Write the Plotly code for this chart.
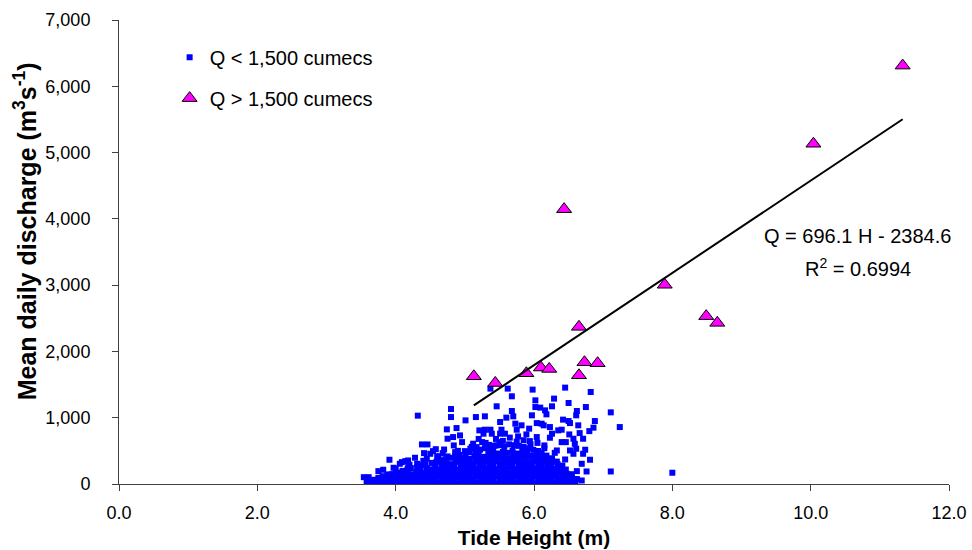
import plotly.graph_objects as go

# ---- data ----
# Q < 1,500 cumecs : (tide height m, discharge m3/s)
low_points = [
    # dense core
    (3.58, 22), (3.62, 55), (3.66, 12), (3.69, 64), (3.73, 28), (3.75, 92),
    (3.80, 15), (3.82, 70), (3.81, 118), (3.87, 35), (3.89, 98), (3.88, 145),
    (3.94, 18), (3.96, 80), (3.95, 150), (4.01, 40), (4.03, 105), (4.02, 172),
    (4.08, 12), (4.10, 75), (4.09, 140), (4.10, 198),
    (4.15, 30), (4.17, 95), (4.16, 160), (4.17, 222),
    (4.22, 15), (4.24, 80), (4.23, 148), (4.22, 240),
    (4.29, 38), (4.31, 102), (4.30, 175), (4.31, 252),
    (4.36, 10), (4.38, 72), (4.37, 140), (4.36, 210), (4.38, 282),
    (4.43, 35), (4.45, 100), (4.44, 170), (4.45, 240), (4.43, 298),
    (4.50, 18), (4.52, 82), (4.51, 150), (4.50, 222), (4.52, 318),
    (4.57, 40), (4.59, 110), (4.58, 180), (4.57, 262), (4.59, 335),
    (4.64, 12), (4.66, 75), (4.65, 145), (4.64, 215), (4.66, 290), (4.65, 358),
    (4.71, 30), (4.73, 98), (4.72, 168), (4.71, 240), (4.73, 312), (4.72, 375),
    (4.78, 15), (4.80, 80), (4.79, 150), (4.78, 225), (4.80, 300), (4.79, 395),
    (4.85, 40), (4.87, 108), (4.86, 180), (4.85, 255), (4.87, 335), (4.86, 418),
    (4.92, 10), (4.94, 72), (4.93, 142), (4.92, 212), (4.94, 285), (4.93, 360), (4.92, 438),
    (4.99, 32), (5.01, 100), (5.00, 170), (4.99, 245), (5.01, 320), (5.00, 395), (5.01, 458),
    (5.06, 15), (5.08, 82), (5.07, 152), (5.06, 228), (5.08, 300), (5.07, 378), (5.06, 478),
    (5.13, 45), (5.15, 115), (5.14, 188), (5.13, 262), (5.15, 340), (5.14, 420), (5.15, 495),
    (5.20, 12), (5.22, 78), (5.21, 150), (5.20, 225), (5.22, 300), (5.21, 378), (5.20, 455), (5.22, 518),
    (5.27, 35), (5.29, 105), (5.28, 180), (5.27, 255), (5.29, 335), (5.28, 410), (5.29, 540),
    (5.34, 18), (5.36, 88), (5.35, 160), (5.34, 235), (5.36, 310), (5.35, 390), (5.34, 470), (5.36, 555),
    (5.41, 42), (5.43, 112), (5.42, 190), (5.41, 265), (5.43, 345), (5.42, 425), (5.41, 505), (5.43, 578),
    (5.48, 10), (5.50, 75), (5.49, 148), (5.48, 222), (5.50, 300), (5.49, 380), (5.48, 460), (5.50, 588),
    (5.55, 30), (5.57, 100), (5.56, 172), (5.55, 248), (5.57, 325), (5.56, 405), (5.55, 485), (5.57, 560),
    (5.62, 15), (5.64, 82), (5.63, 155), (5.62, 230), (5.64, 308), (5.63, 388), (5.62, 470), (5.64, 598),
    (5.69, 40), (5.71, 110), (5.70, 185), (5.69, 262), (5.71, 340), (5.70, 420), (5.69, 500), (5.71, 585),
    (5.76, 12), (5.78, 78), (5.77, 150), (5.76, 225), (5.78, 302), (5.77, 380), (5.76, 460), (5.78, 575),
    (5.83, 35), (5.85, 105), (5.84, 178), (5.83, 255), (5.85, 330), (5.84, 410), (5.83, 490), (5.85, 558),
    (5.90, 18), (5.92, 88), (5.91, 160), (5.90, 238), (5.92, 315), (5.91, 395), (5.90, 470), (5.92, 538),
    (5.97, 45), (5.99, 115), (5.98, 190), (5.97, 268), (5.99, 345), (5.98, 425), (5.99, 515),
    (6.04, 10), (6.06, 78), (6.05, 150), (6.04, 228), (6.06, 305), (6.05, 385), (6.04, 460), (6.06, 498),
    (6.11, 32), (6.13, 102), (6.12, 175), (6.11, 250), (6.13, 330), (6.12, 405), (6.11, 468),
    (6.18, 15), (6.20, 85), (6.19, 158), (6.18, 235), (6.20, 312), (6.19, 380), (6.18, 428),
    (6.25, 40), (6.27, 110), (6.26, 185), (6.25, 262), (6.27, 335), (6.26, 388),
    (6.32, 12), (6.34, 80), (6.33, 152), (6.32, 228), (6.34, 300), (6.33, 338),
    (6.39, 35), (6.41, 105), (6.40, 178), (6.39, 245), (6.41, 278),
    (6.46, 15), (6.48, 85), (6.47, 155), (6.46, 218),
    (6.53, 40), (6.55, 100), (6.54, 148), (6.60, 18), (6.62, 75),
    # ragged upper rim of the dense cloud
    (4.00, 230), (4.20, 290), (4.40, 350), (4.60, 420), (4.70, 520), (4.90, 500),
    (5.10, 560), (5.20, 680), (5.30, 620), (5.45, 680), (5.55, 650), (5.65, 700),
    (5.75, 640), (5.85, 660), (5.95, 600), (6.05, 620), (6.15, 540), (6.30, 470),
    (6.45, 370),
    # scattered points
    (3.54, 103), (3.61, 103), (3.75, 194), (3.82, 215), (3.91, 366), (3.97, 245),
    (4.06, 305), (4.09, 330), (4.14, 345), (4.18, 355), (4.18, 254), (4.28, 396),
    (4.31, 305), (4.32, 1031), (4.38, 597), (4.46, 597), (4.41, 466), (4.45, 381),
    (4.50, 456), (4.54, 496), (4.58, 525), (4.62, 381), (4.68, 466), (4.74, 824),
    (4.75, 683), (4.75, 416), (4.80, 1131), (4.80, 1010), (4.83, 708), (4.84, 582),
    (4.86, 481), (4.88, 844), (4.93, 733), (4.96, 632), (5.00, 496), (5.01, 960),
    (5.08, 532), (5.12, 608), (5.16, 1010), (5.17, 556), (5.21, 809), (5.25, 632),
    (5.27, 759), (5.29, 819), (5.29, 1021), (5.32, 582), (5.35, 590), (5.37, 1439),
    (5.37, 819), (5.39, 759), (5.46, 1172), (5.46, 582), (5.51, 935), (5.51, 759),
    (5.51, 632), (5.53, 819), (5.58, 759), (5.60, 1001), (5.62, 1439), (5.68, 1323),
    (5.68, 1101), (5.70, 1021), (5.73, 910), (5.75, 819), (5.77, 718), (5.82, 885),
    (5.89, 748), (5.93, 835), (5.94, 647), (5.97, 1036), (5.98, 1424), (6.02, 1262),
    (6.02, 1161), (6.04, 919), (6.04, 708), (6.09, 1152), (6.11, 910), (6.14, 885),
    (6.15, 582), (6.16, 1111), (6.18, 1051), (6.23, 859), (6.23, 698), (6.26, 1172),
    (6.26, 759), (6.29, 1288), (6.33, 506), (6.35, 809), (6.40, 819), (6.40, 632),
    (6.42, 971), (6.45, 1454), (6.46, 632), (6.50, 1222), (6.50, 950), (6.51, 748),
    (6.52, 919), (6.52, 506), (6.57, 683), (6.57, 456), (6.59, 607), (6.61, 1036),
    (6.61, 532), (6.62, 1101), (6.62, 194), (6.64, 885), (6.66, 768), (6.69, 305),
    (6.69, 53), (6.71, 683), (6.71, 456), (6.74, 517), (6.75, 1161), (6.76, 189),
    (6.80, 798), (6.81, 366), (6.82, 1388), (6.86, 850), (6.88, 950), (7.11, 1081),
    (7.24, 859), (7.11, 189), (8.00, 170),
]
low_h = [p[0] for p in low_points]
low_q = [p[1] for p in low_points]

# Q > 1,500 cumecs
high_h = [5.13, 5.44, 5.89, 6.10, 6.22, 6.435, 6.65, 6.65, 6.73, 6.92, 7.89, 8.49, 8.65, 10.04, 11.33]
high_q = [1625, 1524, 1671, 1757, 1736, 4146, 2371, 1640, 1837, 1822, 3006, 2532, 2431, 5133, 6312]

# linear fit shown on the chart
slope = 696.1
intercept = -2384.6
r_squared = 0.6994

x_ticks = [0, 2, 4, 6, 8, 10, 12]
y_ticks = [0, 1000, 2000, 3000, 4000, 5000, 6000, 7000]

FONT = "Liberation Sans, Arial, sans-serif"
AXIS = "#404040"

fit_x = [min(high_h), max(high_h)]
fit_y = [slope * h + intercept for h in fit_x]

fig = go.Figure()
fig.add_trace(go.Scatter(
    x=low_h, y=low_q, mode="markers", name="Q < 1,500 cumecs",
    marker=dict(symbol="square", size=6, color="#0000FF", line=dict(width=0)),
    legendgroup="a",
))
fig.add_trace(go.Scatter(
    x=high_h, y=high_q, mode="markers", name="Q > 1,500 cumecs",
    marker=dict(symbol="triangle-up", size=13, color="#FF00FF",
                line=dict(color="#000000", width=1)),
    legendgroup="b",
))
fig.add_trace(go.Scatter(
    x=fit_x, y=fit_y, mode="lines", showlegend=False,
    line=dict(color="#000000", width=2),
))

fig.add_annotation(
    x=0.890, y=0.5345, xref="paper", yref="paper", showarrow=False,
    text=f"Q = {slope} H - {abs(intercept)}", xanchor="center", yanchor="middle",
    font=dict(family=FONT, size=20, color="#000"),
)
fig.add_annotation(
    x=0.890, y=0.4676, xref="paper", yref="paper", showarrow=False,
    text=f"R<sup>2</sup> = {r_squared}", xanchor="center", yanchor="middle",
    font=dict(family=FONT, size=20, color="#000"),
)
# y-axis title (placed as in the reference, slightly above the plot centre)
fig.add_annotation(
    x=-0.113, y=0.545, xref="paper", yref="paper", showarrow=False,
    text="<b>Mean daily discharge (m<sup>3</sup>s<sup>-1</sup>)</b>", textangle=-90,
    xanchor="center", yanchor="middle",
    font=dict(family=FONT, size=25, color="#000"),
)

fig.update_layout(
    width=972, height=550,
    margin=dict(l=119, r=23, t=20, b=66, pad=0),
    paper_bgcolor="white", plot_bgcolor="white",
    font=dict(family=FONT, size=18, color="#000"),
    showlegend=True,
    legend=dict(x=0.061, y=0.962, xanchor="left", yanchor="top",
                bgcolor="rgba(0,0,0,0)", font=dict(family=FONT, size=20),
                tracegroupgap=12, itemsizing="trace", itemwidth=30),
    xaxis=dict(
        range=[0, 12], tickvals=x_ticks, tickformat=".1f",
        showgrid=False, zeroline=False, showline=True, linecolor=AXIS, linewidth=1,
        ticks="outside", ticklen=6, tickcolor=AXIS, ticklabelstandoff=6,
        tickfont=dict(family=FONT, size=18), automargin=False,
        title=dict(text="<b>Tide Height (m)</b>", font=dict(family=FONT, size=21), standoff=8),
    ),
    yaxis=dict(
        range=[0, 7000], tickvals=y_ticks, tickformat=",d",
        showgrid=False, zeroline=False, showline=True, linecolor=AXIS, linewidth=1,
        ticks="outside", ticklen=6, tickcolor=AXIS, ticklabelstandoff=18,
        tickfont=dict(family=FONT, size=18), automargin=False,
    ),
)

fig.write_html("out.html")
